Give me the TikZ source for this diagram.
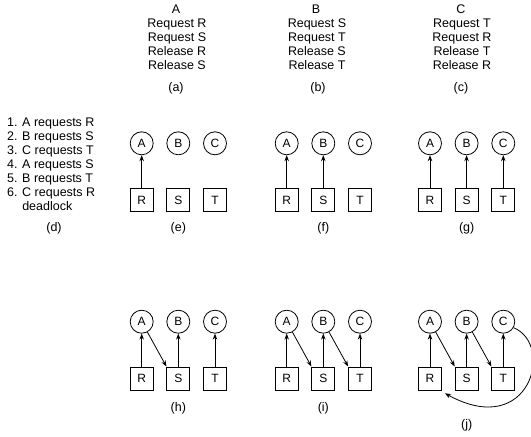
\documentclass[tikz,border=0pt]{standalone}
\usepackage{fontspec}
\setmainfont{Liberation Sans}
\usetikzlibrary{arrows.meta}
\begin{document}
\begin{tikzpicture}[x=1pt,y=-1pt,
  every node/.style={font=\fontsize{12.5}{14}\selectfont, inner sep=0pt},
  proc/.style={circle, draw, line width=0.8pt, minimum size=23pt, font=\fontsize{12}{14}\selectfont},
  res/.style={rectangle, draw, line width=0.8pt, minimum size=23pt, font=\fontsize{12}{14}\selectfont},
  edge/.style={line width=0.8pt, -{Stealth[length=6pt,width=4.5pt]}}]
\useasboundingbox (0,0) rectangle (531,437);
% top programs
\node (hA) at (176,9) {A};
\node (hB) at (316,9) {B};
\node (hC) at (461,9) {C};
\node[align=center, anchor=north] (pA) at (177,18.5) {Request R\\Request S\\Release R\\Release S};
\node[align=center, anchor=north] (pB) at (317,18.5) {Request S\\Request T\\Release S\\Release T};
\node[align=center, anchor=north] (pC) at (462,18.5) {Request T\\Request R\\Release T\\Release R};
\node (la) at (176,88) {(a)};
\node (lb) at (318,88) {(b)};
\node (lc) at (461,88) {(c)};
% list (d)
\node[align=left, anchor=north west] (lst) at (7,117.5) {1. A requests R\\2. B requests S\\3. C requests T\\4. A requests S\\5. B requests T\\6. C requests R\\\phantom{6. }deadlock};
\node (ld) at (54,228) {(d)};
% graphs
\foreach \g/\x/\y in {e/141.7/143.3, f/286.7/143.3, g/430/143.3, h/141.7/321.7, i/286.7/321.7, j/430/321.7}{
  \node[proc] (\g A) at (\x,\y) {A};
  \node[proc] (\g B) at (\x+36.6,\y) {B};
  \node[proc] (\g C) at (\x+73.3,\y) {C};
  \node[res] (\g R) at (\x,\y+56.7) {R};
  \node[res] (\g S) at (\x+36.6,\y+56.7) {S};
  \node[res] (\g T) at (\x+73.3,\y+56.7) {T};
}
\node (le) at (178.3,228) {(e)};
\node (lf) at (323.3,228) {(f)};
\node (lg) at (466.7,228) {(g)};
\node (lh) at (178.3,408) {(h)};
\node (li) at (323.3,408) {(i)};
\node (lj) at (466.7,425) {(j)};
% edges
\draw[edge] (eR) -- (eA);
\draw[edge] (fR) -- (fA);
\draw[edge] (fS) -- (fB);
\draw[edge] (gR) -- (gA);
\draw[edge] (gS) -- (gB);
\draw[edge] (gT) -- (gC);
\draw[edge] (hR) -- (hA);
\draw[edge] (hS) -- (hB);
\draw[edge] (hT) -- (hC);
\draw[edge] (hA) -- (hS.north west);
\draw[edge] (iR) -- (iA);
\draw[edge] (iS) -- (iB);
\draw[edge] (iT) -- (iC);
\draw[edge] (iA) -- (iS.north west);
\draw[edge] (iB) -- (iT.north west);
\draw[edge] (jR) -- (jA);
\draw[edge] (jS) -- (jB);
\draw[edge] (jT) -- (jC);
\draw[edge] (jA) -- (jS.north west);
\draw[edge] (jB) -- (jT.north west);
\draw[edge] (jC.-30) .. controls (555,345) and (530,440) .. ([shift={(3,3)}]jR.south east);
\end{tikzpicture}
\end{document}
